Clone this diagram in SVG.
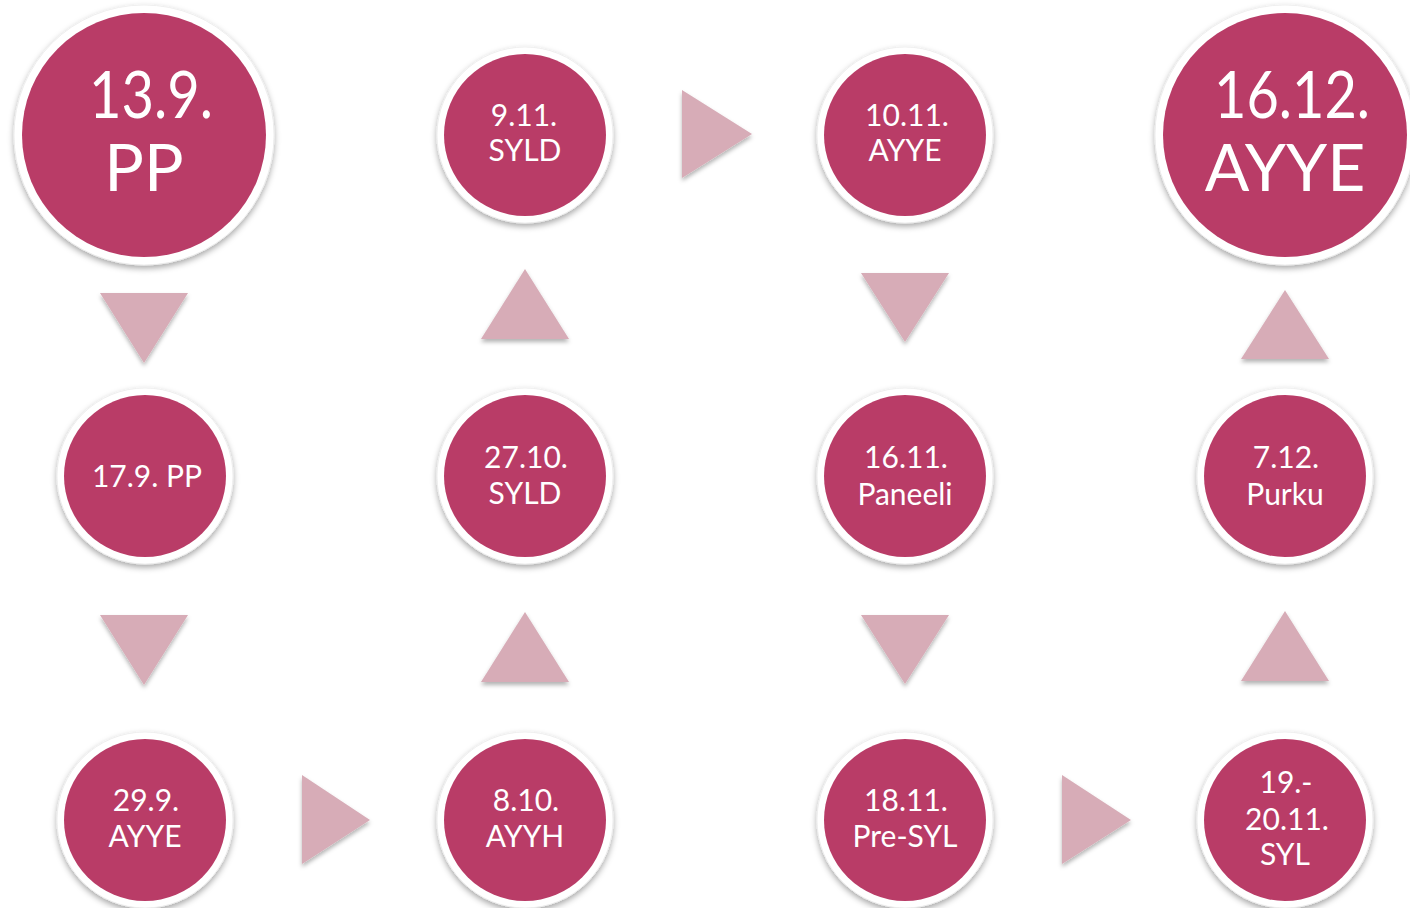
<svg xmlns="http://www.w3.org/2000/svg" width="1410" height="908" viewBox="0 0 1410 908">
<defs>
<filter id="sh" x="-20%" y="-20%" width="140%" height="150%">
<feDropShadow dx="0" dy="3" stdDeviation="3" flood-color="#000" flood-opacity="0.35"/>
</filter>
<filter id="tsh" x="-20%" y="-20%" width="140%" height="150%">
<feDropShadow dx="0" dy="3" stdDeviation="2" flood-color="#000" flood-opacity="0.3"/>
</filter>
</defs>
<style>
.ring{fill:#ffffff;stroke:#ececec;stroke-width:0.8;filter:url(#sh)}
.core{fill:#b93c67}
.lbl{fill:#ffffff;font-family:Lato,"Open Sans","Liberation Sans",sans-serif;font-size:30px;text-anchor:middle}
.big{font-size:66px}
.tri{fill:#d7acb7;filter:url(#tsh)}
</style>
<rect width="1410" height="908" fill="#ffffff"/>
<g id="connectors">
<polygon class="tri" points="100,293 188,293 144,363"/>
<polygon class="tri" points="100,615 188,615 144,685"/>
<polygon class="tri" points="302,775 370,820 302,864"/>
<polygon class="tri" points="481,682 569,682 525,612"/>
<polygon class="tri" points="481,339 569,339 525,269"/>
<polygon class="tri" points="682,90 752,134 682,178"/>
<polygon class="tri" points="861,273 949,273 905,342"/>
<polygon class="tri" points="861,615 949,615 905,684"/>
<polygon class="tri" points="1062,775 1131,820 1062,864"/>
<polygon class="tri" points="1241,681 1329,681 1285,611"/>
<polygon class="tri" points="1241,359 1329,359 1285,290"/>
</g>
<g id="n1">
<circle class="ring" cx="144" cy="135" r="130"/>
<circle class="core" cx="144" cy="135" r="122"/>
<text class="lbl big" x="151" y="118" textLength="124" lengthAdjust="spacingAndGlyphs">13.9.</text>
<text class="lbl big" x="144" y="191">PP</text>
</g>
<g id="n2">
<circle class="ring" cx="145" cy="476" r="88"/>
<circle class="core" cx="145" cy="476" r="81"/>
<text class="lbl" x="147" y="487">17.9. PP</text>
</g>
<g id="n3">
<circle class="ring" cx="145" cy="820" r="88"/>
<circle class="core" cx="145" cy="820" r="81"/>
<text class="lbl" x="146" y="811">29.9.</text>
<text class="lbl" x="145" y="847">AYYE</text>
</g>
<g id="n4">
<circle class="ring" cx="525" cy="820" r="88"/>
<circle class="core" cx="525" cy="820" r="81"/>
<text class="lbl" x="526" y="811">8.10.</text>
<text class="lbl" x="525" y="847">AYYH</text>
</g>
<g id="n5">
<circle class="ring" cx="525" cy="476" r="88"/>
<circle class="core" cx="525" cy="476" r="81"/>
<text class="lbl" x="526" y="468">27.10.</text>
<text class="lbl" x="525" y="504">SYLD</text>
</g>
<g id="n6">
<circle class="ring" cx="525" cy="135" r="88"/>
<circle class="core" cx="525" cy="135" r="81"/>
<text class="lbl" x="524" y="126">9.11.</text>
<text class="lbl" x="525" y="161">SYLD</text>
</g>
<g id="n7">
<circle class="ring" cx="905" cy="135" r="88"/>
<circle class="core" cx="905" cy="135" r="81"/>
<text class="lbl" x="907" y="126">10.11.</text>
<text class="lbl" x="905" y="161">AYYE</text>
</g>
<g id="n8">
<circle class="ring" cx="905" cy="476" r="88"/>
<circle class="core" cx="905" cy="476" r="81"/>
<text class="lbl" x="906" y="468">16.11.</text>
<text class="lbl" x="905" y="505">Paneeli</text>
</g>
<g id="n9">
<circle class="ring" cx="905" cy="820" r="88"/>
<circle class="core" cx="905" cy="820" r="81"/>
<text class="lbl" x="906" y="811">18.11.</text>
<text class="lbl" x="905" y="847">Pre-SYL</text>
</g>
<g id="n10">
<circle class="ring" cx="1285" cy="820" r="88"/>
<circle class="core" cx="1285" cy="820" r="81"/>
<text class="lbl" x="1286" y="793">19.-</text>
<text class="lbl" x="1287" y="830">20.11.</text>
<text class="lbl" x="1285" y="865">SYL</text>
</g>
<g id="n11">
<circle class="ring" cx="1285" cy="476" r="88"/>
<circle class="core" cx="1285" cy="476" r="81"/>
<text class="lbl" x="1286" y="468">7.12.</text>
<text class="lbl" x="1285" y="505">Purku</text>
</g>
<g id="n12">
<circle class="ring" cx="1285" cy="135" r="130"/>
<circle class="core" cx="1285" cy="135" r="122"/>
<text class="lbl big" x="1292" y="118" textLength="156" lengthAdjust="spacingAndGlyphs">16.12.</text>
<text class="lbl big" x="1285" y="191">AYYE</text>
</g>
</svg>
